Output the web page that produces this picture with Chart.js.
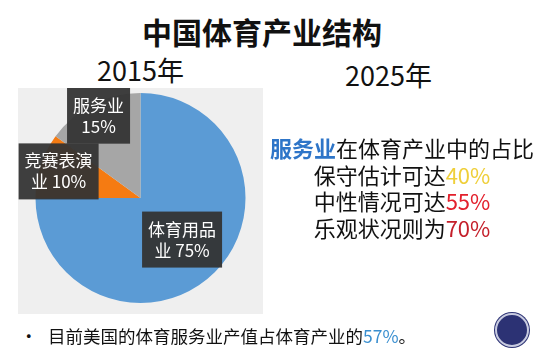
<!DOCTYPE html>
<html>
<head>
<meta charset="utf-8">
<script src="https://cdn.jsdelivr.net/npm/chart.js@4"></script>
<style>
  body { margin: 0; width: 549px; height: 364px; background: #fff; position: relative; overflow: hidden;
         font-family: "Noto Sans CJK SC", "Noto Sans", sans-serif; color: #111; }
  .abs { position: absolute; white-space: nowrap; }
  #title { left: 0; width: 524px; top: 10px; text-align: center; font-size: 30px; font-weight: bold; line-height: 42px; }
  .year { font-size: 27px; line-height: 34px; }
  #pieBox { left: 18px; top: 88px; width: 245px; height: 226px; background: #efefef; }
  #pie { display: block; }
  #notes { left: 262px; width: 280px; top: 134px; text-align: center; font-size: 22px; line-height: 26.5px; }
  #notes .hl { color: #2e75c8; font-weight: bold; }
  #bullet { left: 48px; top: 322px; font-size: 17.5px; line-height: 28px; }
  #dot { left: 20px; top: 322px; font-size: 17.5px; line-height: 28px; }
  #logo { left: 495px; top: 313px; width: 30px; height: 30px; border-radius: 50%; background: #2c3274;
          border: 2px solid #c8cbe0; box-shadow: 0 0 0 1px #2c3274; }
</style>
</head>
<body>
<div id="title" class="abs">中国体育产业结构</div>
<div class="abs year" style="left:97px; top:53px;">2015年</div>
<div class="abs year" style="left:345px; top:58px;">2025年</div>
<div id="pieBox" class="abs"><canvas id="pie" width="245" height="226"></canvas></div>
<div id="notes" class="abs">
  <div><span class="hl">服务业</span>在体育产业中的占比</div>
  <div>保守估计可达<span id="p0"></span></div>
  <div>中性情况可达<span id="p1"></span></div>
  <div>乐观状况则为<span id="p2"></span></div>
</div>
<div id="dot" class="abs">•</div>
<div id="bullet" class="abs">目前美国的体育服务业产值占体育产业的<span style="color:#3a8fd0">57%</span>。</div>
<div id="logo" class="abs"></div>

<script>
// 2015 structure of China's sports industry
const categories = ["体育用品业", "竞赛表演业", "服务业"];
const shares = [75, 10, 15];
const labelLines = [["体育用品", "业 75%"], ["竞赛表演", "业 10%"], ["服务业", "15%"]];
const colors = ["#5b9bd5", "#f57b12", "#a6a6a6"];

// 2025 forecasts of the service share
const forecastValues = [40, 55, 70];
const forecastColors = ["#efcf3a", "#e3202c", "#c41f2a"];
forecastValues.forEach((v, i) => {
  const el = document.getElementById("p" + i);
  el.textContent = v + "%";
  el.style.color = forecastColors[i];
});

// dark label boxes placed along each slice's middle angle
const boxLabels = {
  id: "boxLabels",
  afterDatasetsDraw(chart, args, opts) {
    const ctx = chart.ctx;
    const arcs = chart.getDatasetMeta(0).data;
    ctx.save();
    ctx.font = "17px 'Noto Sans CJK SC', sans-serif";
    ctx.textAlign = "center";
    ctx.textBaseline = "middle";
    arcs.forEach((arc, i) => {
      const mid = (arc.startAngle + arc.endAngle) / 2;
      const r = arc.outerRadius * opts.radius[i];
      const cx = arc.x + Math.cos(mid) * r;
      const cy = arc.y + Math.sin(mid) * r;
      const lines = labelLines[i];
      const w = Math.max(...lines.map((l) => ctx.measureText(l).width)) + 12;
      const h = lines.length * 21 + 14;
      ctx.fillStyle = "rgba(52,52,52,0.95)";
      ctx.fillRect(cx - w / 2, cy - h / 2, w, h);
      ctx.fillStyle = "#fff";
      lines.forEach((l, j) => {
        ctx.fillText(l, cx, cy - h / 2 + 7 + 10.5 + j * 21);
      });
    });
    ctx.restore();
  },
};

new Chart(document.getElementById("pie"), {
  type: "pie",
  data: {
    labels: categories,
    datasets: [
      {
        data: shares,
        backgroundColor: colors,
        borderWidth: 0,
      },
    ],
  },
  options: {
    responsive: false,
    animation: false,
    layout: { padding: { top: 5, bottom: 11 } },
    plugins: {
      legend: { display: false },
      tooltip: { enabled: false },
      boxLabels: { radius: [0.56, 0.82, 0.88] },
    },
  },
  plugins: [boxLabels],
});
</script>
</body>
</html>
